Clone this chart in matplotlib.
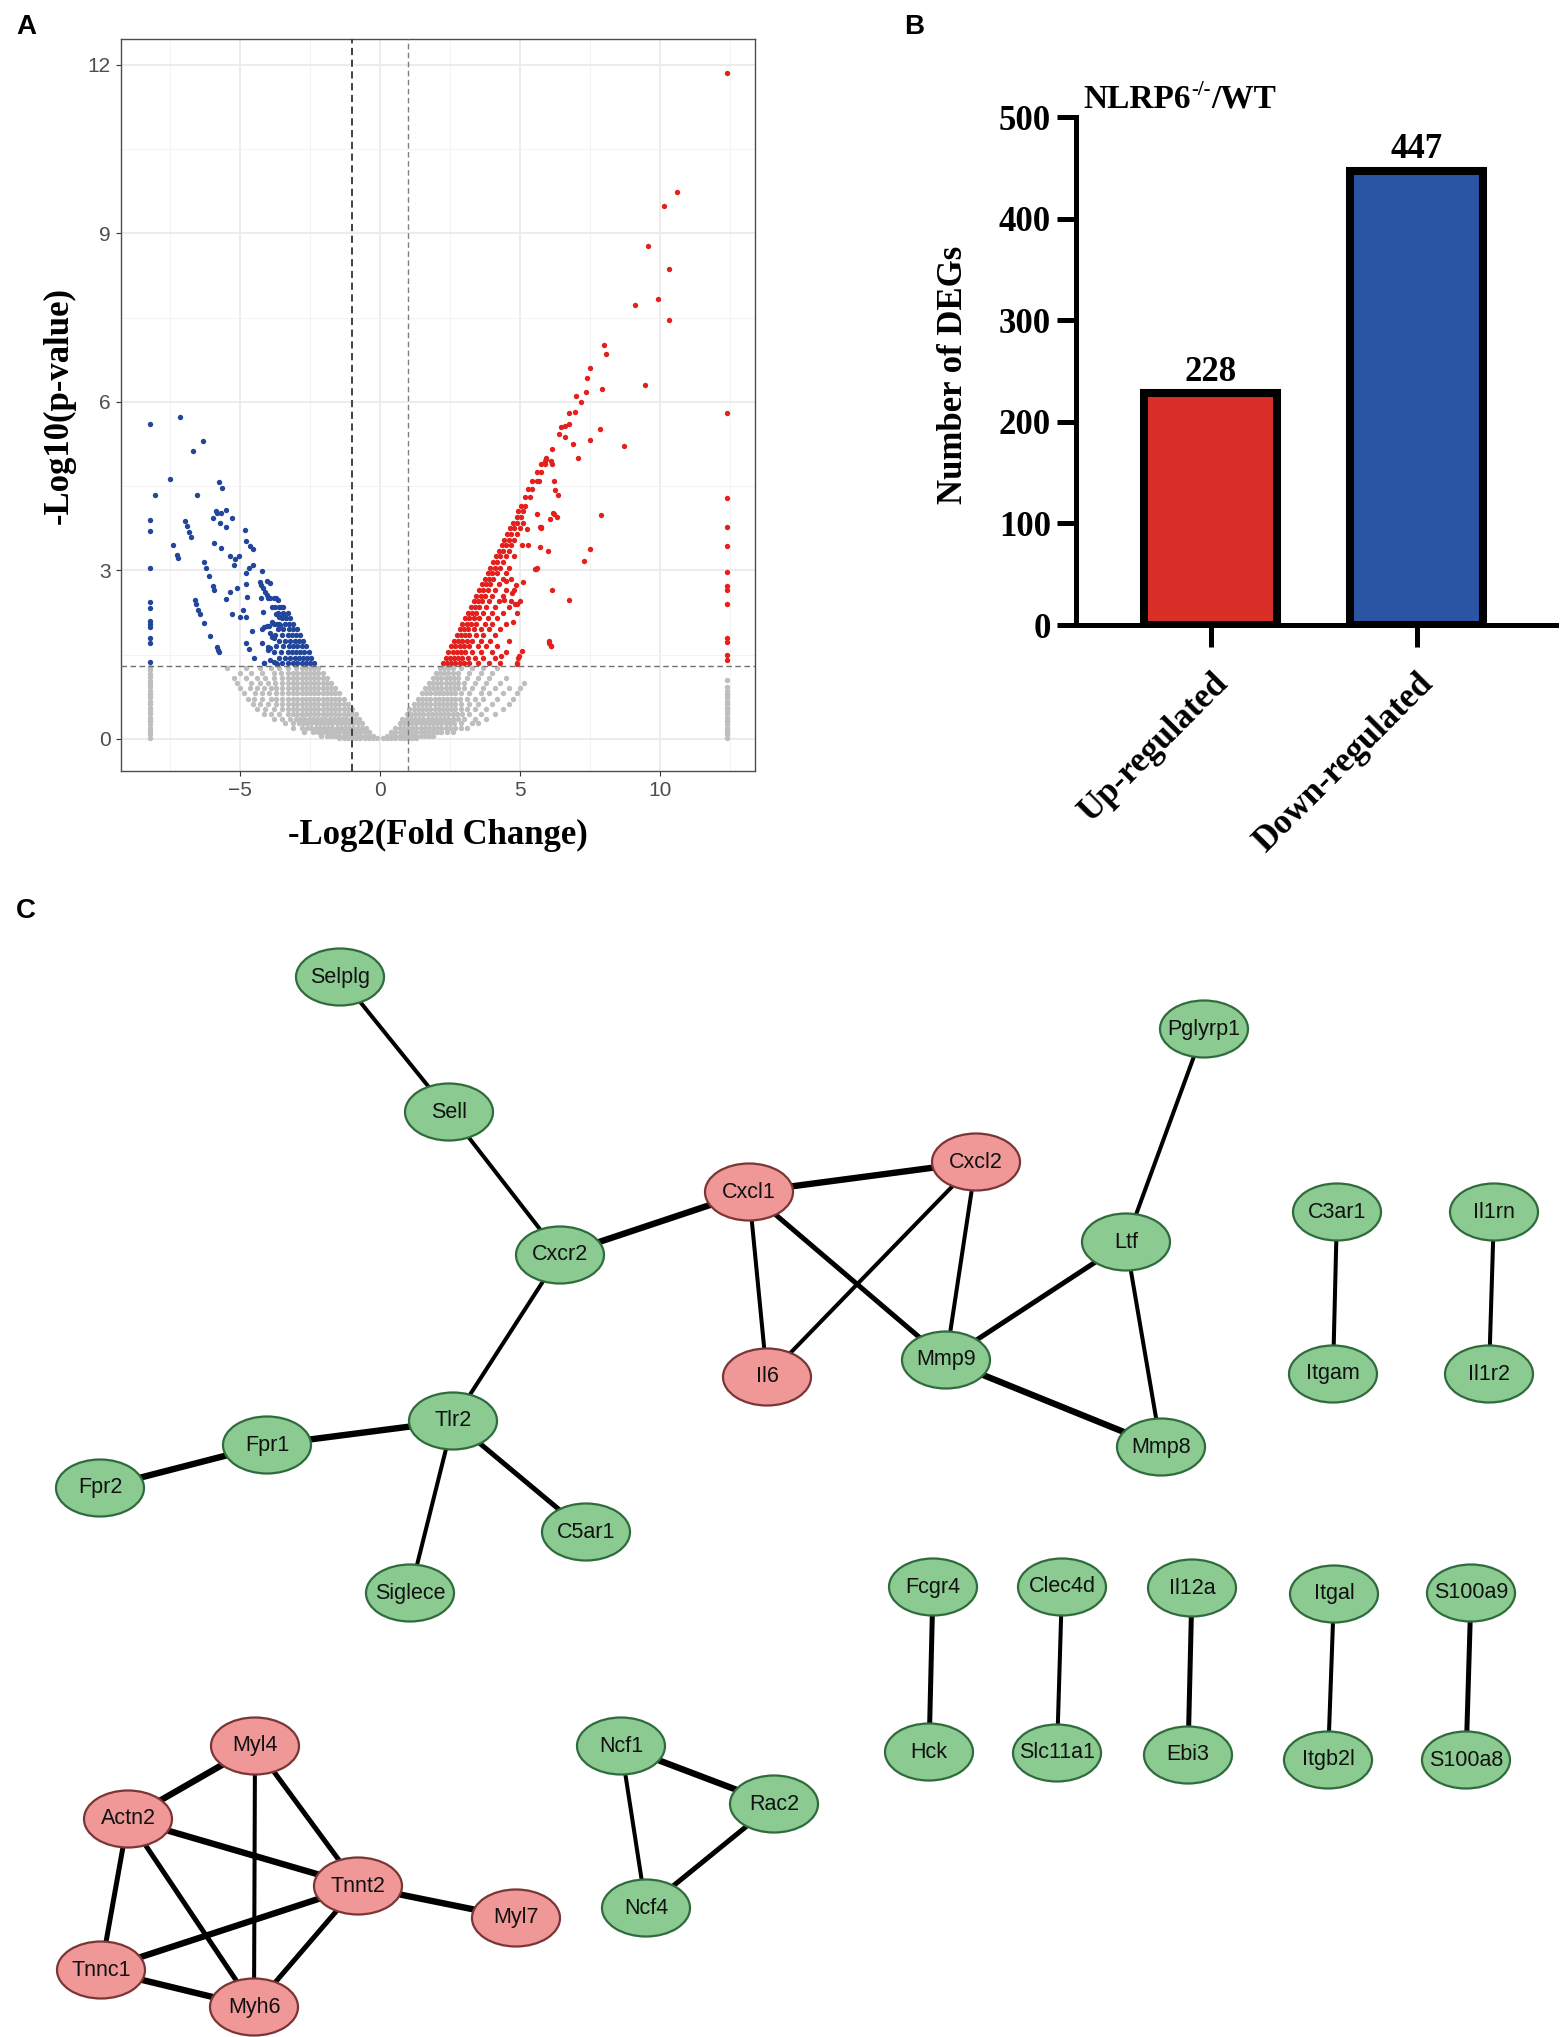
import matplotlib
matplotlib.use("Agg")
import matplotlib.pyplot as plt
from matplotlib.patches import Ellipse
import numpy as np

plt.rcParams['font.family'] = ['Liberation Sans', 'DejaVu Sans']

# ---------------- Panel A data (volcano) ----------------
# grey (not significant) points, typed row by row: y value, then x positions
grey_right_y = [0.02, 0.06, 0.12, 0.20, 0.28, 0.36, 0.45, 0.54, 0.63, 0.72, 0.81, 0.90, 0.99, 1.08, 1.17, 1.26]
grey_right_x = [
    [0.1, 0.25, 0.4, 0.55, 0.7, 0.85, 1.0, 1.15, 1.3],
    [0.25, 0.4, 0.55, 0.7, 0.85, 1.0, 1.15, 1.3, 1.45, 1.6, 1.75, 1.9],
    [0.4, 0.55, 0.7, 0.85, 1.0, 1.15, 1.3, 1.45, 1.6, 1.75, 1.9, 2.05, 2.2, 2.4, 2.6],
    [0.55, 0.7, 0.85, 1.0, 1.15, 1.3, 1.45, 1.6, 1.75, 1.9, 2.05, 2.2, 2.35, 2.5, 2.7, 2.9, 3.1],
    [0.7, 0.85, 1.0, 1.15, 1.3, 1.45, 1.6, 1.75, 1.9, 2.05, 2.2, 2.35, 2.5, 2.65, 2.9, 3.3, 3.5],
    [0.8, 0.95, 1.1, 1.25, 1.4, 1.55, 1.7, 1.85, 2.0, 2.15, 2.3, 2.45, 2.6, 2.8, 3.0, 3.4, 3.8],
    [0.95, 1.1, 1.25, 1.4, 1.55, 1.7, 1.85, 2.0, 2.15, 2.3, 2.45, 2.6, 2.75, 2.95, 3.2, 3.6, 4.1],
    [1.05, 1.2, 1.35, 1.5, 1.65, 1.8, 1.95, 2.1, 2.25, 2.4, 2.55, 2.7, 2.9, 3.1, 3.4, 3.8, 4.4],
    [1.2, 1.35, 1.5, 1.65, 1.8, 1.95, 2.1, 2.25, 2.4, 2.55, 2.7, 2.9, 3.2, 3.5, 4.0, 4.6],
    [1.35, 1.5, 1.65, 1.8, 1.95, 2.1, 2.25, 2.4, 2.55, 2.7, 2.85, 3.1, 3.4, 3.7, 4.2, 4.75],
    [1.5, 1.65, 1.8, 1.95, 2.1, 2.25, 2.4, 2.55, 2.7, 2.9, 3.2, 3.6, 3.9, 4.4, 4.9],
    [1.6, 1.75, 1.9, 2.05, 2.2, 2.35, 2.5, 2.65, 2.8, 3.0, 3.3, 3.7, 4.1, 4.6, 5.0],
    [1.75, 1.9, 2.05, 2.2, 2.35, 2.5, 2.65, 2.8, 3.0, 3.4, 3.8, 4.3, 5.15],
    [1.9, 2.05, 2.2, 2.35, 2.5, 2.65, 2.8, 3.1, 3.5, 3.9, 4.5],
    [2.0, 2.15, 2.3, 2.45, 2.6, 2.8, 3.2, 3.6, 4.0],
    [2.15, 2.3, 2.45, 2.6, 2.9, 3.3, 3.7, 4.2],
]
grey_left_y = [0.02, 0.06, 0.12, 0.20, 0.28, 0.36, 0.45, 0.54, 0.63, 0.72, 0.81, 0.90, 0.99, 1.08, 1.17, 1.26]
grey_left_x = [
    [-0.1, -0.25, -0.4, -0.55, -0.7, -0.85, -1.0, -1.15, -1.3, -1.45],
    [-0.25, -0.4, -0.55, -0.7, -0.85, -1.0, -1.15, -1.3, -1.45, -1.6, -1.75, -1.9, -2.1],
    [-0.4, -0.55, -0.7, -0.85, -1.0, -1.15, -1.3, -1.45, -1.6, -1.75, -1.9, -2.05, -2.2, -2.4, -2.7],
    [-0.5, -0.65, -0.8, -0.95, -1.1, -1.25, -1.4, -1.55, -1.7, -1.85, -2.0, -2.15, -2.3, -2.45, -2.6, -2.8, -3.1],
    [-0.65, -0.8, -0.95, -1.1, -1.25, -1.4, -1.55, -1.7, -1.85, -2.0, -2.15, -2.3, -2.45, -2.6, -2.75, -2.9, -3.1, -3.4],
    [-0.75, -0.9, -1.05, -1.2, -1.35, -1.5, -1.65, -1.8, -1.95, -2.1, -2.25, -2.4, -2.55, -2.7, -2.85, -3.0, -3.2, -3.5, -3.8],
    [-0.85, -1.0, -1.15, -1.3, -1.45, -1.6, -1.75, -1.9, -2.05, -2.2, -2.35, -2.5, -2.65, -2.8, -2.95, -3.1, -3.3, -3.6, -3.9, -4.15],
    [-1.0, -1.15, -1.3, -1.45, -1.6, -1.75, -1.9, -2.05, -2.2, -2.35, -2.5, -2.65, -2.8, -2.95, -3.1, -3.3, -3.5, -3.8, -4.1, -4.4],
    [-1.15, -1.3, -1.45, -1.6, -1.75, -1.9, -2.05, -2.2, -2.35, -2.5, -2.65, -2.8, -2.95, -3.1, -3.3, -3.5, -3.7, -4.0, -4.3, -4.55],
    [-1.3, -1.45, -1.6, -1.75, -1.9, -2.05, -2.2, -2.35, -2.5, -2.65, -2.8, -2.95, -3.1, -3.3, -3.5, -3.7, -3.9, -4.2, -4.5, -4.7],
    [-1.45, -1.6, -1.75, -1.9, -2.05, -2.2, -2.35, -2.5, -2.65, -2.8, -2.95, -3.1, -3.3, -3.5, -3.7, -3.95, -4.2, -4.45, -4.85],
    [-1.6, -1.75, -1.9, -2.05, -2.2, -2.35, -2.5, -2.65, -2.8, -2.95, -3.1, -3.3, -3.5, -3.7, -3.9, -4.15, -4.4, -4.65, -5.0],
    [-1.75, -1.9, -2.05, -2.2, -2.35, -2.5, -2.65, -2.8, -2.95, -3.1, -3.3, -3.5, -3.75, -4.0, -4.3, -4.6, -5.1],
    [-1.9, -2.05, -2.2, -2.35, -2.5, -2.65, -2.8, -2.95, -3.1, -3.3, -3.5, -3.8, -4.1, -4.4, -4.8, -5.2],
    [-2.05, -2.2, -2.35, -2.5, -2.65, -2.8, -2.95, -3.1, -3.3, -3.55, -3.8, -4.2, -4.6, -5.0],
    [-2.2, -2.35, -2.5, -2.65, -2.8, -3.0, -3.3, -3.6, -3.9, -4.3, -4.8, -5.45],
]
# genes with infinite fold change (piled at the plot edges)
grey_col_left_x = -8.21
grey_col_left_y = [0.02, 0.08, 0.14, 0.2, 0.26, 0.32, 0.38, 0.44, 0.5, 0.56, 0.62, 0.68,
                   0.74, 0.8, 0.86, 0.92, 0.98, 1.04, 1.1, 1.16, 1.22, 1.28]
grey_col_right_x = 12.39
grey_col_right_y = [0.02, 0.08, 0.14, 0.2, 0.26, 0.32, 0.38, 0.44, 0.5, 0.56, 0.62, 0.68,
                    0.74, 0.8, 0.86, 0.92, 1.05]

# up-regulated (red) points: dense band rows
red_rows_y = [1.35, 1.45, 1.55, 1.65, 1.75, 1.85, 1.95, 2.05, 2.15, 2.25, 2.35, 2.45, 2.55,
              2.65, 2.75, 2.85, 2.95, 3.05, 3.15, 3.25, 3.35, 3.45, 3.55, 3.65, 3.75, 3.85,
              3.95, 4.05, 4.15, 4.30, 4.45, 4.60, 4.75, 4.90, 5.00]
red_rows_x = [
    [2.25, 2.4, 2.55, 2.7, 2.85, 3.0, 3.2, 3.5, 3.9, 4.3, 4.9],
    [2.35, 2.5, 2.65, 2.8, 2.95, 3.15, 3.4, 3.7, 4.1, 4.95],
    [2.45, 2.6, 2.75, 2.9, 3.05, 3.3, 3.6, 4.0, 4.5],
    [2.55, 2.7, 2.85, 3.0, 3.2, 3.5, 3.8, 4.2, 6.1],
    [2.65, 2.8, 2.95, 3.1, 3.3, 3.6, 3.95, 4.6, 6.05],
    [2.75, 2.9, 3.05, 3.2, 3.45, 3.7, 4.1],
    [2.85, 3.0, 3.15, 3.35, 3.6, 3.9, 4.3],
    [2.95, 3.1, 3.25, 3.45, 3.75, 4.0, 4.5],
    [3.05, 3.2, 3.35, 3.55, 3.85, 4.2],
    [3.15, 3.3, 3.45, 3.7, 4.0, 4.4, 4.9],
    [3.25, 3.4, 3.55, 3.8, 4.1, 4.6],
    [3.35, 3.5, 3.65, 3.9, 4.25, 4.7, 5.0],
    [3.45, 3.6, 3.75, 4.0, 4.4],
    [3.55, 3.7, 3.85, 4.1, 4.5, 4.8],
    [3.65, 3.8, 3.95, 4.25],
    [3.75, 3.9, 4.05, 4.4, 4.7],
    [3.85, 4.0, 4.2, 4.5],
    [3.95, 4.1, 4.3, 4.6, 5.6],
    [4.05, 4.2, 4.4],
    [4.15, 4.3, 4.5, 4.8],
    [4.25, 4.4, 4.6],
    [4.35, 4.5, 4.7, 5.3],
    [4.45, 4.6, 4.8],
    [4.55, 4.7, 4.9],
    [4.65, 4.8, 5.0, 5.75],
    [4.75, 4.9, 5.1],
    [4.9, 5.05],
    [4.95, 5.1],
    [5.05, 5.2],
    [5.2, 5.35],
    [5.3, 5.45],
    [5.45, 5.6, 5.7],
    [5.6, 5.75],
    [5.75, 5.9],
    [5.95],
]
# up-regulated (red) scattered points
red_x = [10.61, 10.14, 9.59, 10.34, 9.11, 9.95, 10.32, 8.0, 8.09, 7.52, 7.39, 9.48, 7.93, 7.0,
         7.36, 7.2, 6.75, 6.96, 6.48, 6.61, 6.77, 7.88, 6.39, 6.63, 7.52, 6.89, 8.73, 7.07,
         6.14, 6.11, 5.95, 6.23, 6.25, 6.36, 6.21, 6.34, 7.89, 5.77, 6.0, 7.52, 7.29, 5.59,
         6.13, 6.77, 6.05, 6.11, 5.09, 4.96, 4.91, 5.27, 5.08, 5.72, 5.53, 5.10, 4.74, 4.82,
         4.89, 4.71, 4.45, 4.86, 4.51, 4.34, 5.61, 6.17, 6.09, 5.73, 6.13, 5.90]
red_y = [9.73, 9.48, 8.77, 8.36, 7.72, 7.83, 7.45, 7.01, 6.85, 6.60, 6.43, 6.30, 6.23, 6.11,
         6.17, 6.00, 5.80, 5.82, 5.55, 5.58, 5.60, 5.52, 5.43, 5.38, 5.32, 5.25, 5.22, 5.00,
         5.17, 4.94, 4.98, 4.60, 4.44, 4.34, 4.01, 3.95, 3.98, 3.78, 3.34, 3.39, 3.16, 3.02,
         2.65, 2.48, 1.71, 1.66, 1.56, 1.47, 1.34, 3.73, 3.45, 3.42, 3.02, 2.79, 2.09, 2.40,
         2.40, 2.59, 2.47, 2.74, 2.82, 1.47, 4.01, 4.03, 3.91, 3.77, 4.89, 4.95]
red_col_x = 12.39
red_col_y = [11.85, 5.80, 4.29, 3.77, 3.43, 2.97, 2.73, 2.66, 2.40, 1.80, 1.73, 1.50, 1.40]

# down-regulated (blue) points: dense rows near the threshold
blue_rows_y = [1.35, 1.45, 1.55, 1.65, 1.75, 1.85, 1.95, 2.05, 2.15, 2.25, 2.35]
blue_rows_x = [
    [-2.35, -2.5, -2.65, -2.8, -2.95, -3.1, -3.3, -3.5, -3.7, -4.14],
    [-2.45, -2.6, -2.75, -2.9, -3.05, -3.2, -3.4, -3.6],
    [-2.55, -2.7, -2.85, -3.0, -3.15, -3.3, -3.55, -3.8],
    [-2.65, -2.8, -2.95, -3.1, -3.25, -3.45, -3.7],
    [-2.75, -2.9, -3.05, -3.2, -3.4, -3.6],
    [-2.85, -3.0, -3.15, -3.3, -3.5, -3.75],
    [-2.95, -3.1, -3.25, -3.45, -3.65],
    [-3.1, -3.25, -3.4, -3.6],
    [-3.2, -3.35, -3.5],
    [-3.3, -3.45, -3.65],
    [-3.45, -3.6],
]
blue_x = [-8.02, -7.13, -7.5, -6.67, -6.32, -7.38, -7.26, -7.23, -6.95, -6.89, -6.82, -6.74,
          -6.52, -6.30, -6.21, -6.11, -5.98, -5.92, -6.62, -6.58, -6.49, -6.42, -6.27, -6.06,
          -5.83, -5.79, -5.74, -5.76, -5.64, -5.95, -5.87, -5.82, -5.68, -5.71, -5.51, -5.51,
          -5.29, -5.92, -5.68, -5.35, -5.17, -5.04, -5.22, -4.82, -4.77, -4.65, -4.52, -5.51,
          -5.35, -5.10, -5.29, -4.99, -4.89, -4.79, -4.79, -4.67, -4.52, -4.75, -4.80, -4.23,
          -4.29, -4.26, -4.17, -4.11, -4.04, -4.00, -4.02, -3.94, -4.26, -4.56, -4.79, -4.68,
          -4.49, -4.17, -4.23, -4.13, -4.05, -3.96, -4.20, -4.14, -3.91, -3.79, -3.70, -3.64,
          -3.87, -3.74, -3.54, -3.71, -3.59, -3.49, -3.40, -3.86, -3.80, -3.68, -3.56, -3.91,
          -3.86, -3.80, -4.00, -3.91, -3.99, -3.91, -3.79, -3.68]
blue_y = [4.35, 5.73, 4.62, 5.12, 5.30, 3.46, 3.27, 3.23, 3.88, 3.79, 3.69, 3.59,
          4.35, 3.15, 3.04, 2.90, 2.73, 2.65, 2.47, 2.41, 2.29, 2.23, 2.07, 1.84,
          1.63, 1.58, 1.54, 4.57, 4.46, 3.93, 4.05, 4.03, 4.03, 3.85, 4.07, 3.78,
          3.93, 3.49, 3.40, 3.26, 3.20, 3.26, 3.10, 3.72, 3.52, 3.44, 3.38, 2.50,
          2.62, 2.69, 2.23, 2.18, 2.30, 2.17, 2.96, 3.05, 3.10, 2.53, 2.75, 2.99,
          2.79, 2.74, 2.68, 2.62, 2.56, 2.51, 2.82, 2.78, 2.51, 1.93, 1.71, 1.60,
          1.45, 2.26, 1.96, 1.99, 2.01, 2.01, 1.70, 1.35, 2.51, 2.51, 2.51, 2.47,
          2.35, 2.35, 2.35, 2.23, 2.17, 2.17, 2.17, 2.08, 2.05, 2.04, 2.02, 1.88,
          1.82, 1.79, 1.64, 1.62, 1.58, 1.40, 1.37, 1.34]
blue_col_x = -8.21
blue_col_y = [5.60, 3.90, 3.71, 3.04, 2.43, 2.33, 2.10, 2.05, 2.00, 1.80, 1.70, 1.37]

fc_cut = 1.0
p_cut = 1.30

# ---------------- Panel B data ----------------
deg_categories = ['Up-regulated', 'Down-regulated']
deg_counts = [228, 447]
deg_colors = ['#DA2E29', '#2A55A4']

# ---------------- Panel C data (PPI network) ----------------
node_names = ['Selplg', 'Sell', 'Cxcr2', 'Cxcl1', 'Cxcl2', 'Pglyrp1', 'Ltf', 'Il6', 'Mmp9',
              'Mmp8', 'Tlr2', 'Fpr1', 'Fpr2', 'Siglece', 'C5ar1', 'C3ar1', 'Itgam', 'Il1rn',
              'Il1r2', 'Fcgr4', 'Hck', 'Clec4d', 'Slc11a1', 'Il12a', 'Ebi3', 'Itgal', 'Itgb2l',
              'S100a9', 'S100a8', 'Myl4', 'Actn2', 'Tnnt2', 'Myl7', 'Tnnc1', 'Myh6',
              'Ncf1', 'Rac2', 'Ncf4']
node_x = [340, 449, 560, 749, 976, 1204, 1126, 767, 946, 1161, 453, 267, 100, 410, 586,
          1337, 1333, 1494, 1489, 933, 929, 1062, 1057, 1192, 1188, 1334, 1328, 1471, 1466,
          255, 128, 358, 516, 101, 254, 621, 774, 646]
node_y = [977, 1112, 1255, 1192, 1162, 1029, 1242, 1377, 1360, 1447, 1421, 1445, 1488, 1593,
          1532, 1212, 1374, 1212, 1374, 1587, 1752, 1587, 1753, 1588, 1755, 1594, 1760, 1593,
          1760, 1746, 1819, 1886, 1918, 1970, 2007, 1746, 1804, 1908]
up_genes = ['Cxcl1', 'Cxcl2', 'Il6', 'Myl4', 'Actn2', 'Tnnt2', 'Myl7', 'Tnnc1', 'Myh6']
edge_a = ['Selplg', 'Sell', 'Cxcr2', 'Cxcr2', 'Cxcl1', 'Cxcl1', 'Cxcl1', 'Cxcl2', 'Cxcl2',
          'Pglyrp1', 'Ltf', 'Ltf', 'Mmp9', 'Tlr2', 'Fpr1', 'Tlr2', 'Tlr2', 'C3ar1', 'Il1rn',
          'Fcgr4', 'Clec4d', 'Il12a', 'Itgal', 'S100a9', 'Myl4', 'Myl4', 'Myl4', 'Actn2',
          'Actn2', 'Actn2', 'Tnnt2', 'Tnnt2', 'Tnnt2', 'Tnnc1', 'Ncf1', 'Ncf1', 'Rac2']
edge_b = ['Sell', 'Cxcr2', 'Cxcl1', 'Tlr2', 'Cxcl2', 'Il6', 'Mmp9', 'Il6', 'Mmp9',
          'Ltf', 'Mmp9', 'Mmp8', 'Mmp8', 'Fpr1', 'Fpr2', 'Siglece', 'C5ar1', 'Itgam', 'Il1r2',
          'Hck', 'Slc11a1', 'Ebi3', 'Itgb2l', 'S100a8', 'Actn2', 'Tnnt2', 'Myh6', 'Tnnt2',
          'Tnnc1', 'Myh6', 'Myl7', 'Tnnc1', 'Myh6', 'Myh6', 'Rac2', 'Ncf4', 'Ncf4']
edge_w = [1, 1, 3, 1, 3, 1, 2, 1, 1,
          1, 2, 1, 3, 3, 3, 1, 2, 1, 1,
          2, 1, 2, 1, 2, 3, 2, 1, 3,
          2, 2, 3, 3, 2, 3, 3, 1, 2]

# ---------------- Figure ----------------
W, H = 1562, 2037
fig = plt.figure(figsize=(W / 100, H / 100), dpi=100)


def fx(px):
    return px / W


def fy(py):
    return 1 - py / H


serif = 'Liberation Serif'

# ---- Panel A ----
axA = fig.add_axes([fx(121), fy(771), fx(755) - fx(121), fy(39) - fy(771)])
gx, gy = [], []
for yy, xs in zip(grey_right_y, grey_right_x):
    gx += xs
    gy += [yy] * len(xs)
for yy, xs in zip(grey_left_y, grey_left_x):
    gx += xs
    gy += [yy] * len(xs)
gx += [grey_col_left_x] * len(grey_col_left_y) + [grey_col_right_x] * len(grey_col_right_y)
gy += grey_col_left_y + grey_col_right_y

rx, ry = list(red_x), list(red_y)
for yy, xs in zip(red_rows_y, red_rows_x):
    rx += xs
    ry += [yy] * len(xs)
rx += [red_col_x] * len(red_col_y)
ry += red_col_y

bx, by = list(blue_x), list(blue_y)
for yy, xs in zip(blue_rows_y, blue_rows_x):
    bx += xs
    by += [yy] * len(xs)
bx += [blue_col_x] * len(blue_col_y)
by += blue_col_y

msize = 15
axA.scatter(gx, gy, s=msize, color='#BEBEBE', linewidths=0, zorder=3)
axA.scatter(bx, by, s=msize, color='#22469C', linewidths=0, zorder=3)
axA.scatter(rx, ry, s=msize, color='#E4201E', linewidths=0, zorder=3)
axA.axvline(-fc_cut, color='#333333', lw=1.3, ls=(0, (4, 2.5)), zorder=4)
axA.axvline(fc_cut, color='#808080', lw=1.0, ls=(0, (4, 2.5)), zorder=4)
axA.axhline(p_cut, color='#707070', lw=1.0, ls=(0, (4, 2.5)), zorder=4)

axA.set_xlim(-9.25, 13.4)
axA.set_ylim(-0.57, 12.46)
axA.set_xticks([-5, 0, 5, 10])
axA.set_yticks([0, 3, 6, 9, 12])
axA.set_xticks([-7.5, -2.5, 2.5, 7.5, 12.5], minor=True)
axA.set_yticks([1.5, 4.5, 7.5, 10.5], minor=True)
axA.grid(which='major', color='#EBEBEB', lw=1.3, zorder=0)
axA.grid(which='minor', color='#F3F3F3', lw=0.7, zorder=0)
axA.set_axisbelow(True)
axA.tick_params(which='major', length=3.5, width=0.8, color='#333333', labelsize=15,
                labelcolor='#4D4D4D', pad=4)
axA.tick_params(which='minor', length=0)
for sp in axA.spines.values():
    sp.set_color('#4D4D4D')
    sp.set_linewidth(1.0)
fig.text(fx(438), fy(835), '-Log2(Fold Change)', ha='center', va='center',
         family=serif, weight='bold', fontsize=25)
fig.text(fx(59), fy(405), '-Log10(p-value)', ha='center', va='center', rotation=90,
         family=serif, weight='bold', fontsize=25)

# ---- Panel B ----
axB = fig.add_axes([fx(1076), fy(625), fx(1556) - fx(1076), fy(117) - fy(625)])
xpos = np.arange(len(deg_categories))
axB.bar(xpos, deg_counts, width=0.646, color=deg_colors, edgecolor='black', linewidth=5.8,
        zorder=2)
for xp, v in zip(xpos, deg_counts):
    axB.annotate(str(v), (xp, v), xytext=(0, 9), textcoords='offset points', ha='center',
                 va='baseline', family=serif, weight='bold', fontsize=25)
axB.set_xlim(-0.655, 1.675)
axB.set_ylim(0, 500)
axB.set_yticks([0, 100, 200, 300, 400, 500])
axB.set_xticks(xpos)
axB.set_xticklabels(deg_categories, rotation=45, ha='right', va='top', rotation_mode='anchor',
                    family=serif, weight='bold', fontsize=25)
axB.set_yticklabels([str(t) for t in [0, 100, 200, 300, 400, 500]], family=serif,
                    weight='bold', fontsize=25)
for s in ['top', 'right']:
    axB.spines[s].set_visible(False)
for s in ['left', 'bottom']:
    axB.spines[s].set_linewidth(3.6)
    axB.spines[s].set_capstyle('projecting')
axB.tick_params(axis='y', length=14, width=3.6, pad=4)
axB.tick_params(axis='x', length=16, width=3.6, pad=14)
fig.text(fx(954), fy(375), 'Number of DEGs', ha='center', va='center', rotation=90,
         family=serif, weight='bold', fontsize=25)

# title with superscript, built from three text pieces
renderer = fig.canvas.get_renderer()
t1 = fig.text(fx(1083), fy(108), 'NLRP6', ha='left', va='baseline', family=serif,
              weight='bold', fontsize=24)
bb = t1.get_window_extent(renderer)
t2 = fig.text(bb.x1 / W + 0.5 / W, fy(108) + 13 / H, '-/-', ha='left', va='baseline',
              family=serif, weight='bold', fontsize=15)
bb2 = t2.get_window_extent(renderer)
fig.text(bb2.x1 / W + 1 / W, fy(108), '/WT', ha='left', va='baseline', family=serif,
         weight='bold', fontsize=24)

# ---- Panel C ----
axC = fig.add_axes([0, 0, 1, fy(900)])
axC.set_xlim(0, W)
axC.set_ylim(H, 900)
axC.axis('off')
pos = {n: (x, y) for n, x, y in zip(node_names, node_x, node_y)}
wmap = {1: 2.9, 2: 3.6, 3: 4.6}
for a, b, w in zip(edge_a, edge_b, edge_w):
    (x1, y1), (x2, y2) = pos[a], pos[b]
    axC.plot([x1, x2], [y1, y2], color='black', lw=wmap[w], solid_capstyle='butt', zorder=1)
for n in node_names:
    x, y = pos[n]
    up = n in up_genes
    fc = '#F09797' if up else '#8BCA91'
    ec = '#7A3535' if up else '#2F6B3C'
    axC.add_patch(Ellipse((x, y), 88, 57, facecolor=fc, edgecolor=ec, lw=1.6, zorder=2))
    axC.text(x, y, n, ha='center', va='center', fontsize=15.5, color='#111111', zorder=3)

# panel letters
fig.text(fx(16), fy(27), 'A', ha='left', va='center', weight='bold', fontsize=20)
fig.text(fx(904), fy(27), 'B', ha='left', va='center', weight='bold', fontsize=20)
fig.text(fx(16), fy(911), 'C', ha='left', va='center', weight='bold', fontsize=20)

fig.savefig('out.png', dpi=100)
